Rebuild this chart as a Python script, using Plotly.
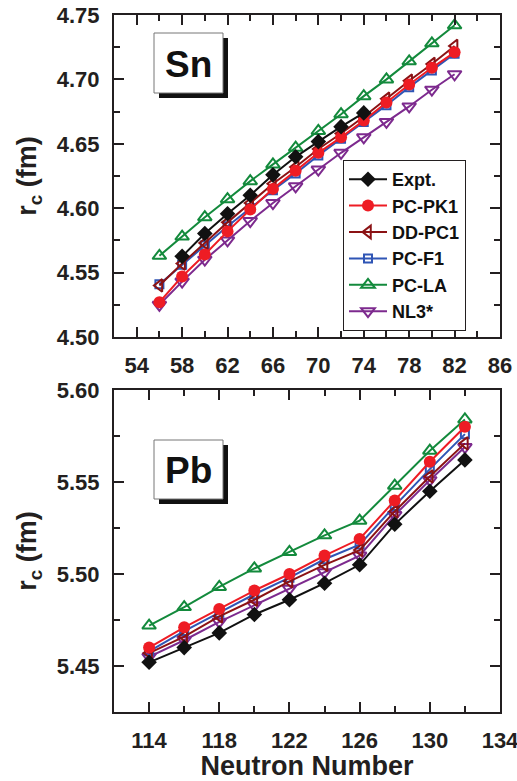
import plotly.graph_objects as go

# ---------------- data ----------------
series_names = ["Expt.", "PC-PK1", "DD-PC1", "PC-F1", "PC-LA", "NL3*"]

sn_N = [56, 58, 60, 62, 64, 66, 68, 70, 72, 74, 76, 78, 80, 82]
sn_expt_N = [58, 60, 62, 64, 66, 68, 70, 72, 74]
sn_expt = [4.5626, 4.5804, 4.5957, 4.6101, 4.6259, 4.6399, 4.6517, 4.6633, 4.6740]
sn_pcpk1 = [4.527, 4.547, 4.564, 4.582, 4.599, 4.615, 4.629, 4.643, 4.655, 4.668, 4.682, 4.696, 4.709, 4.721]
sn_ddpc1 = [4.540, 4.557, 4.573, 4.589, 4.604, 4.619, 4.632, 4.646, 4.658, 4.671, 4.685, 4.699, 4.712, 4.726]
sn_pcf1 = [4.541, 4.556, 4.571, 4.586, 4.600, 4.614, 4.627, 4.641, 4.654, 4.667, 4.680, 4.694, 4.707, 4.720]
sn_pcla = [4.563, 4.578, 4.593, 4.607, 4.621, 4.634, 4.647, 4.660, 4.673, 4.687, 4.700, 4.714, 4.728, 4.742]
sn_nl3s = [4.525, 4.543, 4.560, 4.575, 4.590, 4.604, 4.617, 4.630, 4.643, 4.655, 4.667, 4.679, 4.692, 4.704]

pb_N = [114, 116, 118, 120, 122, 124, 126, 128, 130, 132]
pb_expt = [5.452, 5.460, 5.468, 5.478, 5.486, 5.495, 5.505, 5.527, 5.545, 5.562]
pb_pcpk1 = [5.460, 5.471, 5.481, 5.491, 5.500, 5.510, 5.519, 5.540, 5.561, 5.580]
pb_ddpc1 = [5.457, 5.466, 5.477, 5.486, 5.496, 5.505, 5.513, 5.534, 5.553, 5.571]
pb_pcf1 = [5.458, 5.469, 5.479, 5.489, 5.498, 5.508, 5.516, 5.537, 5.557, 5.576]
pb_pcla = [5.472, 5.482, 5.493, 5.503, 5.512, 5.521, 5.529, 5.548, 5.567, 5.584]
pb_nl3s = [5.455, 5.464, 5.474, 5.483, 5.492, 5.501, 5.510, 5.532, 5.551, 5.569]

sn_x_ticks = [54, 58, 62, 66, 70, 74, 78, 82, 86]
pb_x_ticks = [114, 118, 122, 126, 130, 134]
sn_y_ticks = [4.50, 4.55, 4.60, 4.65, 4.70, 4.75]
pb_y_ticks = [5.45, 5.50, 5.55, 5.60]

# ---------------- styles ----------------
styles = {
    "Expt.":  dict(color="#111111", symbol="diamond", size=12, fill=True),
    "PC-PK1": dict(color="#ee1c24", symbol="circle", size=12, fill=True),
    "DD-PC1": dict(color="#8b1214", symbol="triangle-left-open", size=11, fill=False),
    "PC-F1":  dict(color="#2f55b5", symbol="square-open", size=8, fill=False),
    "PC-LA":  dict(color="#138a3c", symbol="triangle-up-open", size=12, fill=False),
    "NL3*":   dict(color="#7d2a8e", symbol="triangle-down-open", size=12, fill=False),
}

W, H = 517, 781
L, R, T, B = 114, 17, 15, 69
pw, ph = W - L - R, H - T - B


def px2x(px):
    return (px - L) / pw


def py2y(py):
    return (H - B - py) / ph


fig = go.Figure()

sn_data = [(sn_expt_N, sn_expt), (sn_N, sn_pcpk1), (sn_N, sn_ddpc1), (sn_N, sn_pcf1), (sn_N, sn_pcla), (sn_N, sn_nl3s)]
pb_data = [(pb_N, pb_expt), (pb_N, pb_pcpk1), (pb_N, pb_ddpc1), (pb_N, pb_pcf1), (pb_N, pb_pcla), (pb_N, pb_nl3s)]

legend_rank = {name: i for i, name in enumerate(series_names)}

for idx in [4, 5, 3, 2, 1, 0]:
    name = series_names[idx]
    st = styles[name]
    mk = dict(symbol=st["symbol"], size=st["size"], color=st["color"],
              line=dict(color=st["color"], width=2 if not st["fill"] else 0))
    xs, ys = sn_data[idx]
    fig.add_trace(go.Scatter(x=xs, y=ys, name=name, mode="lines+markers",
                             line=dict(color=st["color"], width=2), marker=mk,
                             xaxis="x", yaxis="y", legendrank=legend_rank[name]))
    xs, ys = pb_data[idx]
    fig.add_trace(go.Scatter(x=xs, y=ys, name=name, mode="lines+markers", showlegend=False,
                             line=dict(color=st["color"], width=2), marker=mk,
                             xaxis="x2", yaxis="y2"))

axis_common = dict(
    showline=True, linecolor="#231f20", linewidth=2, mirror="ticks",
    ticks="inside", ticklen=10, tickwidth=2, tickcolor="#231f20",
    showgrid=False, zeroline=False, automargin=False,
    tickfont=dict(family="Liberation Sans, Arial", size=22, color="#231f20", weight="bold"),
    ticklabelstandoff=8, ticklabeloverflow="allow",
)

top_dom = [py2y(337), 1.0]
bot_dom = [0.0, py2y(390)]

fig.update_layout(
    width=W, height=H,
    margin=dict(l=L, r=R, t=T, b=B, autoexpand=False),
    paper_bgcolor="white", plot_bgcolor="white",
    font=dict(family="Liberation Sans, Arial", color="#231f20"),
    xaxis=dict(axis_common, domain=[0, 1], range=[52, 86], tickvals=sn_x_ticks,
               minor=dict(dtick=2, tick0=52, ticks="inside", ticklen=6, tickwidth=2, tickcolor="#231f20"),
               anchor="y"),
    yaxis=dict(axis_common, domain=top_dom, range=[4.50, 4.75], tickvals=sn_y_ticks,
               tickformat=".2f",
               minor=dict(dtick=0.025, tick0=4.5, ticks="inside", ticklen=6, tickwidth=2, tickcolor="#231f20"),
               anchor="x",
               title=dict(text="<b>r<sub>c</sub> (fm)</b>", font=dict(size=27, family="Liberation Sans, Arial"), standoff=12)),
    xaxis2=dict(axis_common, domain=[0, 1], range=[112, 134], tickvals=pb_x_ticks,
                minor=dict(dtick=2, tick0=112, ticks="inside", ticklen=6, tickwidth=2, tickcolor="#231f20"),
                anchor="y2",
                title=dict(text="<b>Neutron Number</b>", font=dict(size=27, family="Liberation Sans, Arial"), standoff=3)),
    yaxis2=dict(axis_common, domain=bot_dom, range=[5.425, 5.60], tickvals=pb_y_ticks,
                tickformat=".2f",
                minor=dict(dtick=0.025, tick0=5.425, ticks="inside", ticklen=6, tickwidth=2, tickcolor="#231f20"),
                anchor="x2",
                title=dict(text="<b>r<sub>c</sub> (fm)</b>", font=dict(size=27, family="Liberation Sans, Arial"), standoff=12)),
    showlegend=True,
    legend=dict(x=px2x(343), y=py2y(160), xanchor="left", yanchor="top",
                bgcolor="white", bordercolor="#231f20", borderwidth=1,
                font=dict(family="Liberation Sans, Arial", size=18, color="#111111", weight="bold"),
                itemwidth=38, tracegroupgap=0),
)

# label boxes (Sn / Pb) with drop shadow
shapes = []
annotations = []
for label, (bx0, by0, bx1, by1) in [("Sn", (154, 33, 223, 93)), ("Pb", (154, 440, 223, 499))]:
    shapes.append(dict(type="rect", xref="paper", yref="paper",
                       x0=px2x(bx0 + 5), x1=px2x(bx1 + 5), y0=py2y(by0 + 5), y1=py2y(by1 + 5),
                       fillcolor="#111111", line=dict(width=0), layer="above"))
    shapes.append(dict(type="rect", xref="paper", yref="paper",
                       x0=px2x(bx0), x1=px2x(bx1), y0=py2y(by0), y1=py2y(by1),
                       fillcolor="white", line=dict(color="#777777", width=1), layer="above"))
    annotations.append(dict(text="<b>%s</b>" % label, xref="paper", yref="paper",
                            x=px2x((bx0 + bx1) / 2), y=py2y((by0 + by1) / 2 + 1),
                            xanchor="center", yanchor="middle", showarrow=False,
                            font=dict(family="Liberation Sans, Arial", size=37, color="#111111")))

fig.update_layout(shapes=shapes, annotations=annotations)

fig.write_html("out.html", config={"displayModeBar": False},
               post_script="document.body.style.margin='0px';")
